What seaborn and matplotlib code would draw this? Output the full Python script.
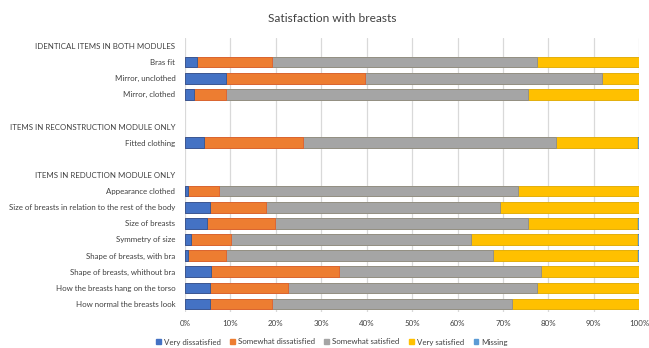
import matplotlib
matplotlib.use("Agg")
import matplotlib.pyplot as plt
from matplotlib.patches import Patch
import numpy as np
import pandas as pd
import seaborn as sns

# Row layout (section headers and spacer rows carry no bars)
rows = [
    "IDENTICAL ITEMS IN BOTH MODULES",
    "Bras fit",
    "Mirror, unclothed",
    "Mirror, clothed",
    " ",
    "ITEMS IN RECONSTRUCTION MODULE ONLY",
    "Fitted clothing",
    "  ",
    "ITEMS IN REDUCTION MODULE ONLY",
    "Appearance clothed",
    "Size of breasts in relation to the rest of the body",
    "Size of breasts",
    "Symmetry of size",
    "Shape of breasts, with bra",
    "Shape of breasts, whithout bra",
    "How the breasts hang on the torso",
    "How normal the breasts look",
]

items = [
    "Bras fit",
    "Mirror, unclothed",
    "Mirror, clothed",
    "Fitted clothing",
    "Appearance clothed",
    "Size of breasts in relation to the rest of the body",
    "Size of breasts",
    "Symmetry of size",
    "Shape of breasts, with bra",
    "Shape of breasts, whithout bra",
    "How the breasts hang on the torso",
    "How normal the breasts look",
]

very_dissatisfied = [2.7, 9.0, 2.0, 4.2, 0.6, 5.5, 4.8, 1.3, 0.6, 5.7, 5.6, 5.5]
somewhat_dissatisfied = [16.4, 30.6, 7.0, 21.8, 6.9, 12.3, 15.0, 8.8, 8.4, 28.3, 17.0, 13.6]
somewhat_satisfied = [58.4, 52.1, 66.5, 55.6, 65.7, 51.5, 55.6, 52.8, 58.7, 44.4, 54.8, 52.9]
very_satisfied = [22.5, 8.3, 24.6, 17.8, 26.8, 30.7, 24.0, 36.5, 31.7, 21.6, 22.6, 28.0]
missing = [0.0, 0.0, 0.0, 0.6, 0.0, 0.0, 0.6, 0.6, 0.6, 0.0, 0.0, 0.0]

series_names = ["Very dissatisfied", "Somewhat dissatisfied", "Somewhat satisfied",
                "Very satisfied", "Missing"]
series_values = [very_dissatisfied, somewhat_dissatisfied, somewhat_satisfied,
                 very_satisfied, missing]
colors = ["#4472C4", "#ED7D31", "#A5A5A5", "#FFC000", "#5B9BD5"]
edges = ["#2F5597", "#E0602A", "#8C8C8C", "#F0B400", "#2F6FB0"]

sns.set_theme(style="white")
plt.rcParams["font.family"] = ["Lato", "DejaVu Sans"]
label_size = 5.7

fig = plt.figure(figsize=(6.49, 3.48), dpi=100)
ax = fig.add_axes([185 / 649, 1 - 312 / 348, (639.3 - 185) / 649, 274 / 348])

# Stacked bars: draw cumulative totals from the outermost segment inward
cum = np.cumsum(np.array(series_values), axis=0)
for i in range(len(series_names) - 1, -1, -1):
    df = pd.DataFrame({"item": items, "value": cum[i]})
    sns.barplot(data=df, x="value", y="item", order=rows, orient="h",
                color=colors[i], saturation=1, width=0.66,
                edgecolor=edges[i], linewidth=0.6, ax=ax, zorder=3)

ax.set_xlim(0, 100)
ax.set_ylim(len(rows) - 0.5, -0.5)
ax.set_xticks(np.arange(0, 101, 10))
ax.set_xticklabels([f"{v}%" for v in range(0, 101, 10)], fontsize=label_size, color="#404040")
ax.tick_params(axis="y", labelsize=label_size, labelcolor="#404040", length=0, pad=7)
ax.tick_params(axis="x", length=0, pad=6)
ax.set_xlabel("")
ax.set_ylabel("")
ax.grid(axis="x", color="#D9D9D9", linewidth=0.9, zorder=0)
ax.grid(axis="y", visible=False)
for s in ax.spines.values():
    s.set_visible(False)

fig.suptitle("Satisfaction with breasts", x=332 / 649, y=1 - 18 / 348, va="center",
             fontsize=8.6, color="#404040")

handles = [Patch(facecolor=c, edgecolor=c) for c in colors]
fig.legend(handles, series_names, loc="center", bbox_to_anchor=(332 / 649, 1 - 342 / 348),
           ncol=5, frameon=False, fontsize=label_size, handlelength=0.6, handleheight=0.6,
           handletextpad=0.4, columnspacing=1.2, labelcolor="#404040")

fig.savefig("out.png", dpi=100)
